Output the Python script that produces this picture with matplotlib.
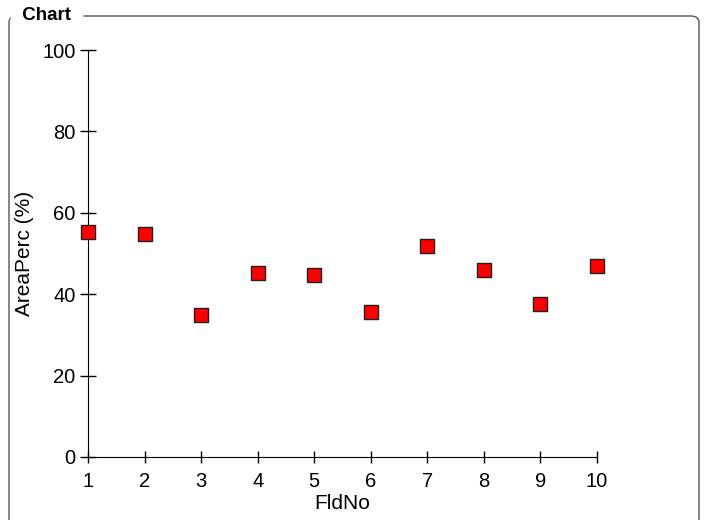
import matplotlib
matplotlib.use("Agg")
import matplotlib.pyplot as plt
from matplotlib.patches import FancyBboxPatch

# data
fld_no = [1, 2, 3, 4, 5, 6, 7, 8, 9, 10]
area_perc = [55.3, 54.8, 34.9, 45.2, 44.7, 35.6, 51.8, 45.9, 37.6, 46.9]
y_ticks = [0, 20, 40, 60, 80, 100]

plt.rcParams['font.family'] = ['Liberation Sans', 'DejaVu Sans']

W, H = 705, 520
fig = plt.figure(figsize=(W / 100, H / 100), dpi=100)

# rounded frame with the title sitting on its top edge
frame = FancyBboxPatch((9 / W, -20 / H), 690 / W, (H - 16 + 20) / H,
                       boxstyle="round,pad=0,rounding_size=0.012",
                       transform=fig.transFigure, fill=False,
                       edgecolor='#555555', linewidth=1.0)
fig.patches.append(frame)
fig.text(17 / W, 1 - 15 / H, " Chart ", fontsize=13.5, fontweight='bold',
         va='center', ha='left', backgroundcolor='white')

ax = fig.add_axes([88 / W, (H - 457) / H, (597 - 88) / W, (457 - 50) / H])
ax.scatter(fld_no, area_perc, marker='s', s=100, color='red',
           edgecolor='#222222', linewidth=1.0, zorder=3, clip_on=False)

ax.set_xlim(1, 10)
ax.set_ylim(0, 100)
ax.set_xticks(fld_no)
ax.set_yticks(y_ticks)
for side in ('top', 'right'):
    ax.spines[side].set_visible(False)
ax.tick_params(axis='y', direction='inout', length=11, width=1,
               labelsize=14.5, pad=3.5)
ax.tick_params(axis='x', direction='inout', length=8, width=1,
               labelsize=14.5, pad=7)
ax.set_xlabel('FldNo', fontsize=15, labelpad=2)
ax.set_ylabel('AreaPerc (%)', fontsize=15, labelpad=6)

fig.savefig('out.png', dpi=100)
